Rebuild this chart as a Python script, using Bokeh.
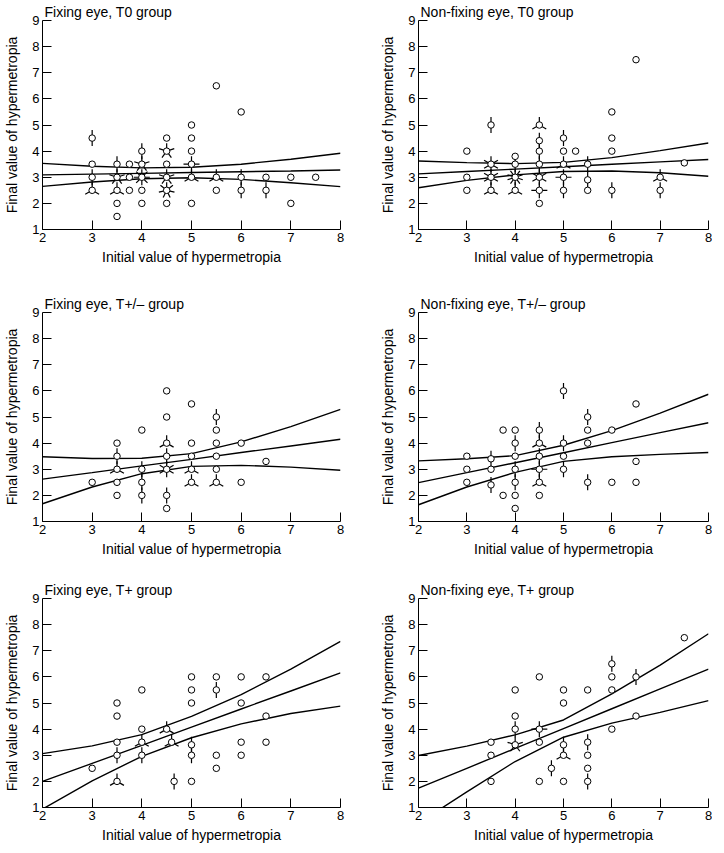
import math
from bokeh.plotting import figure
from bokeh.layouts import gridplot
from bokeh.models import Range1d, ColumnDataSource, FixedTicker
from bokeh.embed import file_html
from bokeh.resources import INLINE

FONT = "Liberation Sans"
X_TICKS = [2, 3, 4, 5, 6, 7, 8]
Y_TICKS = [1, 2, 3, 4, 5, 6, 7, 8, 9]
X_LABEL = "Initial value of hypermetropia"
Y_LABEL = "Final value of hypermetropia"
FIT_X = [2, 3, 4, 5, 6, 7, 8]

# ---- Fixing eye, T0 group ----
fix_t0_title = "Fixing eye, T0 group"
fix_t0_x = [3, 3, 3, 3, 3.5, 3.5, 3.5, 3.5, 3.5, 3.75, 3.75, 3.75, 4, 4, 4, 4, 4,
            4.5, 4.5, 4.5, 4.5, 4.5, 4.5, 5, 5, 5, 5, 5, 5, 5.5, 5.5, 5.5, 6, 6, 6,
            6.5, 6.5, 7, 7, 7.5]
fix_t0_y = [4.5, 3.5, 3, 2.5, 3.5, 3, 2.5, 2, 1.5, 3.5, 3, 2.5, 4, 3.5, 3, 2.5, 2,
            4.5, 4, 3.5, 3, 2.5, 2, 5, 4.5, 4, 3.5, 3, 2, 6.5, 3, 2.5, 5.5, 3, 2.5,
            3, 2.5, 3, 2, 3]
fix_t0_n = [2, 1, 2, 3, 2, 5, 3, 1, 1, 1, 1, 1, 2, 5, 8, 1, 1,
            1, 5, 1, 5, 7, 1, 1, 1, 1, 4, 3, 1, 1, 3, 1, 1, 2, 2,
            1, 2, 1, 1, 1]
fix_t0_fit = [3.09, 3.12, 3.15, 3.18, 3.21, 3.24, 3.28]
fix_t0_upper = [3.53, 3.42, 3.36, 3.38, 3.50, 3.69, 3.92]
fix_t0_lower = [2.65, 2.82, 2.94, 2.98, 2.92, 2.79, 2.64]

# ---- Non-fixing eye, T0 group ----
nfix_t0_title = "Non-fixing eye, T0 group"
nfix_t0_x = [3, 3, 3, 3.5, 3.5, 3.5, 3.5, 4, 4, 4, 4,
             4.5, 4.5, 4.5, 4.5, 4.5, 4.5, 4.5, 5, 5, 5, 5, 5, 5.25,
             5.5, 5.5, 5.5, 6, 6, 6, 6, 6.5, 7, 7, 7.5]
nfix_t0_y = [4, 3, 2.5, 5, 3.5, 3, 2.5, 3.8, 3.5, 3, 2.5,
             5, 4.4, 4, 3.5, 3, 2.5, 2, 4.5, 4, 3.5, 3, 2.5, 4,
             3.5, 2.9, 2.5, 5.5, 4.5, 4, 2.5, 7.5, 3, 2.5, 3.55]
nfix_t0_n = [1, 1, 1, 2, 6, 6, 3, 1, 2, 10, 3,
             3, 2, 2, 2, 6, 4, 1, 2, 1, 3, 4, 2, 1,
             2, 2, 1, 1, 1, 1, 2, 1, 3, 2, 1]
nfix_t0_fit = [3.13, 3.22, 3.31, 3.40, 3.50, 3.59, 3.68]
nfix_t0_upper = [3.62, 3.56, 3.52, 3.57, 3.75, 4.02, 4.31]
nfix_t0_lower = [2.60, 2.88, 3.09, 3.22, 3.24, 3.17, 3.04]

# ---- Fixing eye, T+/- group ----
fix_tpm_title = "Fixing eye, T+/\u2013 group"
fix_tpm_x = [3, 3.5, 3.5, 3.5, 3.5, 3.5, 4, 4, 4, 4,
             4.5, 4.5, 4.5, 4.5, 4.5, 4.5, 4.5, 5, 5, 5, 5, 5,
             5.5, 5.5, 5.5, 5.5, 5.5, 5.5, 6, 6, 6.5]
fix_tpm_y = [2.5, 4, 3.5, 3, 2.5, 2, 4.5, 3, 2.5, 2,
             6, 5, 4, 3.5, 3, 2, 1.5, 5.5, 4, 3.5, 3, 2.5,
             5, 4.5, 4, 3.5, 3, 2.5, 4, 2.5, 3.3]
fix_tpm_n = [1, 1, 2, 3, 1, 1, 1, 2, 2, 2,
             1, 1, 3, 2, 6, 2, 1, 1, 1, 1, 3, 3,
             2, 1, 1, 1, 1, 3, 1, 1, 1]
fix_tpm_fit = [2.62, 2.87, 3.13, 3.38, 3.64, 3.89, 4.15]
fix_tpm_upper = [3.48, 3.41, 3.42, 3.60, 4.05, 4.63, 5.29]
fix_tpm_lower = [1.68, 2.32, 2.83, 3.11, 3.15, 3.08, 2.96]

# ---- Non-fixing eye, T+/- group ----
nfix_tpm_title = "Non-fixing eye, T+/\u2013 group"
nfix_tpm_x = [3, 3, 3, 3.5, 3.5, 3.5, 3.75, 3.75,
              4, 4, 4, 4, 4, 4, 4, 4.5, 4.5, 4.5, 4.5, 4.5, 4.5,
              5, 5, 5, 5, 5.5, 5.5, 5.5, 5.5, 6, 6, 6.5, 6.5, 6.5]
nfix_tpm_y = [3.5, 3, 2.5, 3.4, 3, 2.4, 4.5, 2,
              4.5, 4, 3.5, 3, 2.5, 2, 1.5, 4.5, 4, 3.5, 3, 2.5, 2,
              6, 4, 3.5, 3, 5, 4.5, 4, 2.5, 4.5, 2.5, 5.5, 3.3, 2.5]
nfix_tpm_n = [1, 1, 1, 2, 1, 2, 1, 1,
              1, 2, 1, 2, 2, 1, 1, 2, 3, 2, 4, 3, 1,
              2, 2, 1, 2, 2, 1, 1, 2, 1, 1, 1, 1, 1]
nfix_tpm_fit = [2.49, 2.87, 3.25, 3.63, 4.02, 4.40, 4.78]
nfix_tpm_upper = [3.32, 3.40, 3.52, 3.92, 4.48, 5.15, 5.87]
nfix_tpm_lower = [1.64, 2.32, 2.88, 3.30, 3.48, 3.57, 3.64]

# ---- Fixing eye, T+ group ----
fix_tp_title = "Fixing eye, T+ group"
fix_tp_x = [3, 3.5, 3.5, 3.5, 3.5, 3.5, 4, 4, 4, 4, 4.5, 4.6, 4.65,
            5, 5, 5, 5, 5, 5, 5.5, 5.5, 5.5, 5.5, 6, 6, 6, 6, 6.5, 6.5, 6.5]
fix_tp_y = [2.5, 5, 4.5, 3.5, 3, 2, 5.5, 4, 3.5, 3, 4, 3.5, 2,
            6, 5.5, 5, 3.4, 3, 2, 6, 5.5, 3, 2.5, 6, 5, 3.5, 3, 6, 4.5, 3.5]
fix_tp_n = [1, 1, 1, 1, 2, 3, 1, 1, 3, 2, 3, 3, 2,
            1, 1, 1, 2, 2, 1, 1, 2, 1, 1, 1, 1, 1, 1, 1, 1, 1]
fix_tp_fit = [2.00, 2.69, 3.38, 4.08, 4.77, 5.46, 6.15]
fix_tp_upper = [3.06, 3.36, 3.79, 4.49, 5.32, 6.30, 7.36]
fix_tp_lower = [0.94, 2.02, 2.96, 3.67, 4.20, 4.60, 4.88]

# ---- Non-fixing eye, T+ group ----
nfix_tp_title = "Non-fixing eye, T+ group"
nfix_tp_x = [3.5, 3.5, 3.5, 4, 4, 4, 4, 4.5, 4.5, 4.5, 4.5, 4.75,
             5, 5, 5, 5, 5, 5.5, 5.5, 5.5, 5.5, 5.5, 6, 6, 6, 6, 6.5, 6.5, 7.5]
nfix_tp_y = [3.5, 3, 2, 5.5, 4.5, 4, 3.4, 6, 4, 3.5, 2, 2.5,
             5.5, 5, 3.4, 3, 2, 5.5, 3.5, 3, 2.5, 2, 6.5, 6, 5.5, 4, 6, 4.5, 7.5]
nfix_tp_n = [1, 1, 1, 1, 1, 2, 5, 1, 4, 1, 1, 2,
             1, 1, 2, 3, 1, 1, 2, 1, 1, 2, 2, 1, 1, 1, 2, 1, 1]
nfix_tp_fit = [1.74, 2.50, 3.26, 4.02, 4.78, 5.54, 6.30]
nfix_tp_upper = [2.99, 3.35, 3.78, 4.35, 5.35, 6.45, 7.65]
nfix_tp_lower = [0.40, 1.60, 2.76, 3.69, 4.23, 4.64, 5.09]


def panel(title, xs, ys, ns, fit, up, lo, fw, fh, bl, br, bt, bb):
    p = figure(frame_width=fw, frame_height=fh, x_range=Range1d(2, 8), y_range=Range1d(1, 9),
               output_backend="svg", toolbar_location=None,
               min_border_left=bl, min_border_right=br, min_border_top=bt, min_border_bottom=bb)
    p.outline_line_color = None
    p.xgrid.visible = False
    p.ygrid.visible = False
    p.background_fill_color = "white"
    p.border_fill_color = "white"
    p.title.text = title
    p.title.text_font = FONT
    p.title.text_font_size = "14px"
    p.title.text_font_style = "normal"
    p.title.text_color = "black"
    p.title.standoff = 2
    p.title.offset = 2
    for ax, ticks, lab in ((p.xaxis, X_TICKS, X_LABEL), (p.yaxis, Y_TICKS, Y_LABEL)):
        ax.ticker = FixedTicker(ticks=ticks)
        ax.axis_label = lab
        ax.axis_label_text_font = FONT
        ax.axis_label_text_font_size = "14px"
        ax.axis_label_text_font_style = "normal"
        ax.axis_label_text_color = "black"
        ax.major_label_text_font = FONT
        ax.major_label_text_font_size = "13px"
        ax.major_label_text_color = "black"
        ax.major_tick_in = 9
        ax.major_tick_out = 0
        ax.minor_tick_line_color = None
        ax.axis_line_color = "black"
        ax.major_tick_line_color = "black"
        ax.axis_line_width = 1
        ax.major_label_standoff = 3
        ax.axis_label_standoff = 4
    p.yaxis.axis_label_standoff = 9

    # regression line and confidence band
    for ys_line in (fit, up, lo):
        p.line(FIT_X, ys_line, line_color="black", line_width=1.4)

    # sunflower petals
    px, py, pa = [], [], []
    for x, y, n in zip(xs, ys, ns):
        if n >= 2:
            for k in range(n):
                px.append(x)
                py.append(y)
                pa.append(math.pi / 2 + 2 * math.pi * k / n)
    src = ColumnDataSource(data=dict(x=px, y=py, a=pa))
    p.ray(x="x", y="y", angle="a", length=8, length_units="screen", source=src,
          line_color="black", line_width=1.2)
    p.scatter(xs, ys, marker="circle", size=6.5, fill_color="white", line_color="black",
              line_width=1)
    return p


FH = 209
rows = [(16, 51), (32, 51), (26, 44)]
specs = [
    (fix_t0_title, fix_t0_x, fix_t0_y, fix_t0_n, fix_t0_fit, fix_t0_upper, fix_t0_lower),
    (nfix_t0_title, nfix_t0_x, nfix_t0_y, nfix_t0_n, nfix_t0_fit, nfix_t0_upper, nfix_t0_lower),
    (fix_tpm_title, fix_tpm_x, fix_tpm_y, fix_tpm_n, fix_tpm_fit, fix_tpm_upper, fix_tpm_lower),
    (nfix_tpm_title, nfix_tpm_x, nfix_tpm_y, nfix_tpm_n, nfix_tpm_fit, nfix_tpm_upper, nfix_tpm_lower),
    (fix_tp_title, fix_tp_x, fix_tp_y, fix_tp_n, fix_tp_fit, fix_tp_upper, fix_tp_lower),
    (nfix_tp_title, nfix_tp_x, nfix_tp_y, nfix_tp_n, nfix_tp_fit, nfix_tp_upper, nfix_tp_lower),
]

grid_rows = []
for r, (bt, bb) in enumerate(rows):
    left = panel(*specs[2 * r], fw=298, fh=FH, bl=42, br=22, bt=bt, bb=bb)
    right = panel(*specs[2 * r + 1], fw=290, fh=FH, bl=56, br=4, bt=bt, bb=bb)
    grid_rows.append([left, right])

grid = gridplot(grid_rows, toolbar_location=None)
open("out.html", "w").write(file_html(grid, INLINE))
